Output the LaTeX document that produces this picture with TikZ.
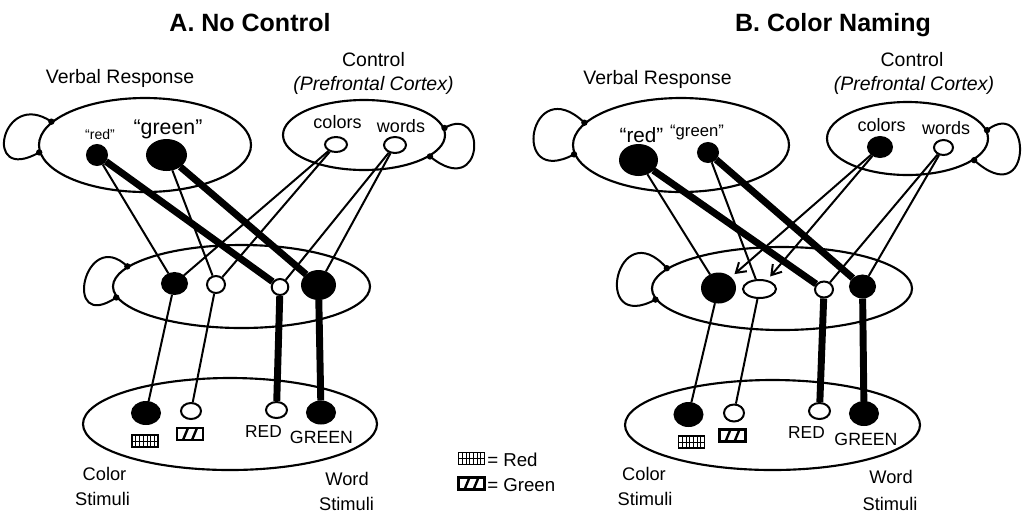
\documentclass[tikz,border=0pt]{standalone}
\usepackage{fontspec}
\setmainfont{Liberation Sans}
\usetikzlibrary{shapes.geometric,arrows.meta}
\pgfdeclarelayer{paper}
\pgfdeclarelayer{wires}
\pgfsetlayers{paper,wires,main}
\tikzset{
  rad/.style 2 args={minimum width=#1*1.5pt, minimum height=#2*1.5pt},
  grp/.style={ellipse, draw, line width=1.6pt, inner sep=0pt},
  unitnode/.style={ellipse, draw, line width=1.5pt, inner sep=0pt},
  onunit/.style={unitnode, fill=black},
  offunit/.style={unitnode, fill=white},
  thinwire/.style={line width=1.5pt},
  thickwire/.style={line width=5.2pt},
  ctrlarrow/.style={thinwire, -{Straight Barb[length=7pt,width=9pt,line width=1.5pt]}, shorten >=3.5pt},
  lab/.style={font=\fontsize{14.6}{17}\selectfont, anchor=base, inner sep=0pt},
  inlab/.style={font=\fontsize{13.5}{16}\selectfont, anchor=base, inner sep=0pt},
  paneltitle/.style={font=\fontsize{18.75}{22}\selectfont\bfseries, anchor=base, inner sep=0pt},
  pics/redswatch/.style={code={
    \draw[line width=1.1pt] (-13,-6) rectangle (13,6);
    \draw[line width=0.5pt] (-13,0) -- (13,0);
    \foreach \i in {-9.3,-5.6,-1.9,1.9,5.6,9.3} \draw[line width=0.6pt] (\i,-6) -- (\i,6);
  }},
  pics/greenswatch/.style={code={
    \draw[line width=1.6pt] (-13,-6) rectangle (13,6);
    \foreach \i in {-4.5,4.5} \draw[line width=1.8pt] (\i-2.5,6) -- (\i+2.5,-6);
  }}
}
\begin{document}
\begin{tikzpicture}[x=0.75pt,y=-0.75pt]
\begin{pgfonlayer}{paper}
\fill[white] (0,0) rectangle (1034,512);
\end{pgfonlayer}
\useasboundingbox (0,0) rectangle (1034,512);

% ---------------- Panel A: no control ----------------
\node[paneltitle] (tA) at (250,31) {A. No Control};
\node[lab] (vrA) at (120,83) {Verbal Response};
\node[lab] (ctA) at (373.5,66) {Control};
\node[lab, font=\fontsize{14.6}{17}\selectfont\itshape] (pfA) at (373.5,90) {(Prefrontal Cortex)};

\node[grp, rad={106}{47}] (VA) at (145,145) {};
\node[grp, rad={81}{35}] (CA) at (364,135) {};
\node[grp, rad={128.5}{41.5}] (HA) at (241.5,286.5) {};
\node[grp, rad={147}{46}] (SA) at (230,424) {};

\node[anchor=base, inner sep=0pt, font=\fontsize{10.5}{12}\selectfont] (qrA) at (100,139) {“red”};
\node[anchor=base, inner sep=0pt, font=\fontsize{16}{18}\selectfont] (qgA) at (168,134) {“green”};
\node[inlab] (tcA) at (337.5,128) {colors};
\node[inlab] (twA) at (401,132) {words};

\node[onunit, rad={10}{10}] (rA) at (97,155) {};
\node[onunit, rad={19.5}{15}] (gA) at (166.5,155) {};
\node[offunit, rad={11}{7.5}] (cA) at (336,144.5) {};
\node[offunit, rad={11}{8}] (wA) at (395,145) {};

\node[onunit, rad={12.5}{10.5}] (hA1) at (174.5,283.5) {};
\node[offunit, rad={9}{8.5}] (hA2) at (216,284.5) {};
\node[offunit, rad={8.3}{8}] (hA3) at (280,287) {};
\node[onunit, rad={16.5}{14}] (hA4) at (318.5,285) {};

\node[onunit, rad={14}{11}] (sA1) at (146,413) {};
\node[offunit, rad={10}{8}] (sA2) at (191,411) {};
\node[offunit, rad={10.5}{8}] (sA3) at (276.5,410) {};
\node[onunit, rad={14}{11}] (sA4) at (321,412.5) {};

\pic at (145,441) {redswatch};
\pic at (190,434) {greenswatch};
\node[anchor=base, inner sep=0pt, font=\fontsize{13}{15}\selectfont] (lrA) at (263.5,437) {RED};
\node[anchor=base, inner sep=0pt, font=\fontsize{13.3}{15}\selectfont] (lgA) at (321.5,443) {GREEN};
\node[lab, font=\fontsize{13.7}{16}\selectfont] (csA1) at (104.5,480) {Color};
\node[lab, font=\fontsize{13.7}{16}\selectfont] (csA2) at (102.5,505) {Stimuli};
\node[lab, font=\fontsize{13.7}{16}\selectfont] (wsA1) at (347,485) {Word};
\node[lab, font=\fontsize{13.7}{16}\selectfont] (wsA2) at (346.5,510) {Stimuli};

\begin{pgfonlayer}{wires}
\draw[thinwire] (rA) -- (hA1);
\draw[thickwire] (rA) -- (hA3);
\draw[thinwire] (gA) -- (hA2);
\draw[thickwire] (gA) -- (hA4);
\draw[thinwire] (cA) -- (hA1);
\draw[thinwire] (cA) -- (hA2);
\draw[thinwire] (wA) -- (hA3);
\draw[thinwire] (wA) -- (hA4);
\draw[thinwire] (hA1) -- (sA1);
\draw[thinwire] (hA2) -- (sA2);
\draw[thickwire] (hA3) -- (sA3);
\draw[thickwire] (hA4) -- (sA4);
\end{pgfonlayer}

% recurrent loops
\draw[thinwire] (VA.166) .. controls +(-50,-34) and +(-58,33) .. (VA.184);
\fill (VA.166) circle[radius=3.2] (VA.184) circle[radius=3.2];
\draw[thinwire] (CA.5) .. controls +(43,-25) and +(55,45) .. (CA.342);
\fill (CA.5) circle[radius=3.2] (CA.342) circle[radius=3.2];
\draw[thinwire] (HA.170) .. controls +(-43,-41) and +(-55,37) .. (HA.185);
\fill (HA.170) circle[radius=3.2] (HA.185) circle[radius=3.2];

% ---------------- legend ----------------
\pic at (471.5,458.5) {redswatch};
\pic at (471.5,483.5) {greenswatch};
\node[anchor=base west, inner sep=0pt, font=\fontsize{14}{16}\selectfont] (lgR) at (487,466) {= Red};
\node[anchor=base west, inner sep=0pt, font=\fontsize{14}{16}\selectfont] (lgG) at (487,491) {= Green};

% ---------------- Panel B: color naming ----------------
\node[paneltitle] (tB) at (833,31) {B. Color Naming};
\node[lab] (vrB) at (657.5,84) {Verbal Response};
\node[lab] (ctB) at (912,66) {Control};
\node[lab, font=\fontsize{14.6}{17}\selectfont\itshape] (pfB) at (914,90) {(Prefrontal Cortex)};

\node[grp, rad={108}{47}] (VB) at (681,145) {};
\node[grp, rad={80.5}{36.5}] (CB) at (907.5,138.5) {};
\node[grp, rad={130}{41.5}] (HB) at (782,288.5) {};
\node[grp, rad={147.5}{45}] (SB) at (772.5,425) {};

\node[anchor=base, inner sep=0pt, font=\fontsize{15.5}{18}\selectfont] (qrB) at (641.5,142) {“red”};
\node[anchor=base, inner sep=0pt, font=\fontsize{12.5}{15}\selectfont] (qgB) at (697,136) {“green”};
\node[inlab] (tcB) at (881.5,131) {colors};
\node[inlab] (twB) at (946,134) {words};

\node[onunit, rad={18.5}{15}] (rB) at (638.5,160) {};
\node[onunit, rad={10}{9.5}] (gB) at (708,152.5) {};
\node[onunit, rad={12}{10}] (cB) at (880,147) {};
\node[offunit, rad={9.5}{7.5}] (wB) at (943.5,147.5) {};

\node[onunit, rad={16.5}{14.5}] (hB1) at (718.5,288) {};
\node[offunit, rad={16.5}{9}] (hB2) at (759.5,289) {};
\node[offunit, rad={9}{8}] (hB3) at (824,289.5) {};
\node[onunit, rad={12.5}{11}] (hB4) at (862.5,286.5) {};

\node[onunit, rad={14}{11.5}] (sB1) at (688.5,414.5) {};
\node[offunit, rad={10}{8.5}] (sB2) at (734,413) {};
\node[offunit, rad={10.5}{8}] (sB3) at (819.5,411) {};
\node[onunit, rad={14}{11.5}] (sB4) at (864,413.5) {};

\pic at (691.5,442) {redswatch};
\pic at (732.5,435.5) {greenswatch};
\node[anchor=base, inner sep=0pt, font=\fontsize{13}{15}\selectfont] (lrB) at (806.5,438) {RED};
\node[anchor=base, inner sep=0pt, font=\fontsize{13.3}{15}\selectfont] (lgB) at (866,445) {GREEN};
\node[lab, font=\fontsize{13.7}{16}\selectfont] (csB1) at (644,480) {Color};
\node[lab, font=\fontsize{13.7}{16}\selectfont] (csB2) at (645,505) {Stimuli};
\node[lab, font=\fontsize{13.7}{16}\selectfont] (wsB1) at (891,483) {Word};
\node[lab, font=\fontsize{13.7}{16}\selectfont] (wsB2) at (890,510) {Stimuli};

\begin{pgfonlayer}{wires}
\draw[thinwire] (rB) -- (hB1);
\draw[thickwire] (rB) -- (hB3);
\draw[thinwire] (gB) -- (hB2);
\draw[thickwire] (gB) -- (hB4);
\draw[ctrlarrow] (cB) -- (hB1);
\draw[ctrlarrow] (cB) -- (hB2);
\draw[thinwire] (wB) -- (hB3);
\draw[thinwire] (wB) -- (hB4);
\draw[thinwire] (hB1) -- (sB1);
\draw[thinwire] (hB2) -- (sB2);
\draw[thickwire] (hB3) -- (sB3);
\draw[thickwire] (hB4) -- (sB4);
\end{pgfonlayer}

\draw[thinwire] (VB.167.5) .. controls +(-55,-53) and +(-65,35) .. (VB.185);
\fill (VB.167.5) circle[radius=3.2] (VB.185) circle[radius=3.2];
\draw[thinwire] (CB.6) .. controls +(45,-35) and +(60,54) .. (CB.342.5);
\fill (CB.6) circle[radius=3.2] (CB.342.5) circle[radius=3.2];
\draw[thinwire] (HB.170.7) .. controls +(-50,-57) and +(-65,35) .. (HB.185);
\fill (HB.170.7) circle[radius=3.2] (HB.185) circle[radius=3.2];
\end{tikzpicture}
\end{document}
